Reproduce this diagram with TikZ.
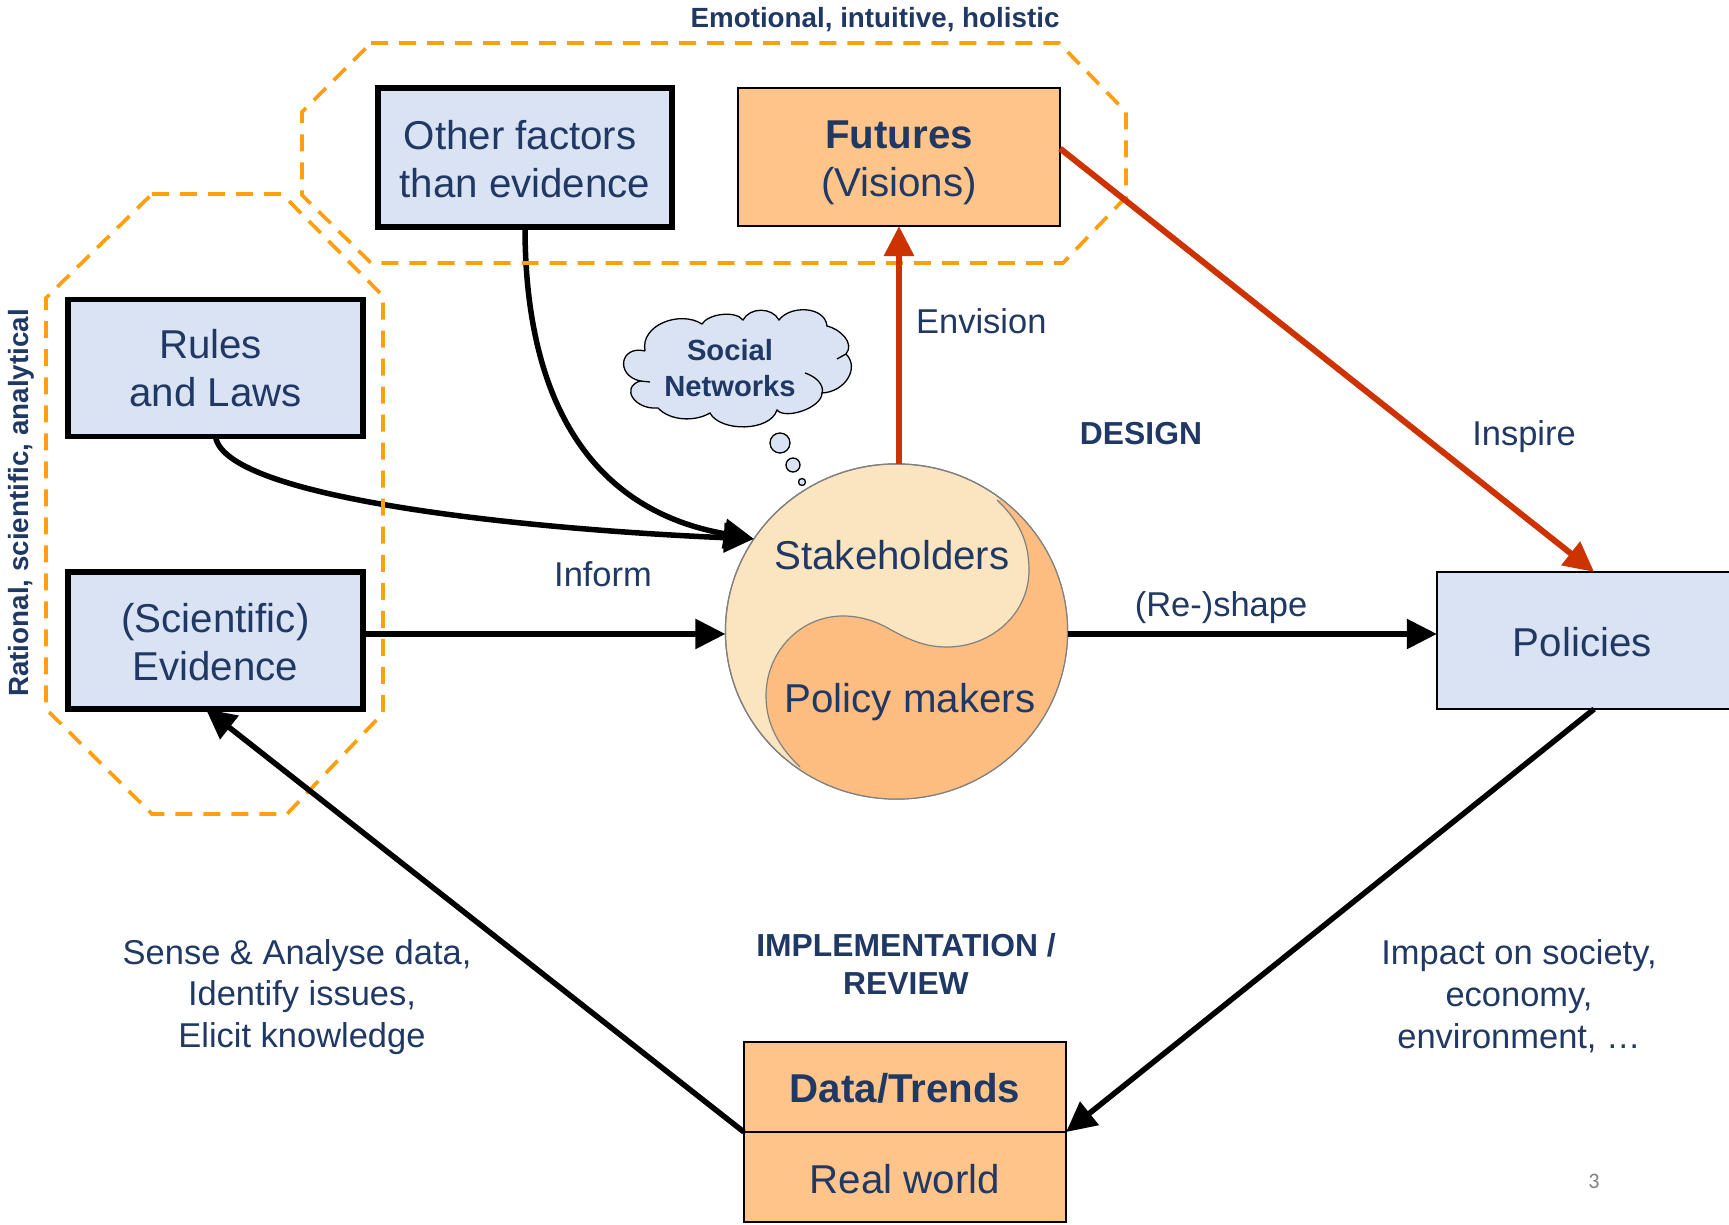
\documentclass[tikz,border=0pt]{standalone}
\usepackage{fontspec}
\setmainfont{Liberation Sans}
\newfontfamily\pagefont{Carlito}
\usepackage{xcolor}
\usetikzlibrary{arrows.meta,calc,shapes.geometric}

\definecolor{inknavy}{HTML}{1F3864}
\definecolor{boxblue}{HTML}{DAE3F3}
\definecolor{boxorange}{HTML}{FFC48A}
\definecolor{yinlight}{HTML}{FBE5C1}
\definecolor{yinorange}{HTML}{FDBD80}
\definecolor{dashorange}{HTML}{FF9F0F}
\definecolor{arrowred}{HTML}{CC3300}

\newcommand{\toproom}[1]{\rule{0pt}{#1pt}}

\tikzset{
  bigfont/.style={font=\fontsize{11.45}{13.7}\selectfont},
  midfont/.style={font=\fontsize{9.8}{11.9}\selectfont},
  headfont/.style={font=\fontsize{9.05}{10.6}\selectfont\bfseries},
  sidefont/.style={font=\fontsize{7.9}{9.5}\selectfont\bfseries},
  thickbox/.style={draw=black,line width=0.055cm,fill=boxblue,text=inknavy,bigfont,align=center,
    minimum width=2.95cm,minimum height=1.37cm,inner sep=0pt,outer sep=0pt},
  thinbox/.style={draw=black,line width=0.014cm,text=inknavy,bigfont,align=center,
    minimum width=3.22cm,inner sep=0pt,outer sep=0pt},
  label/.style={text=inknavy,midfont,align=center,inner sep=0pt},
  headlabel/.style={text=inknavy,headfont,align=center,inner sep=0pt},
  sidelabel/.style={text=inknavy,sidefont,inner sep=0pt},
  octagon/.style={dashorange,line width=0.037cm,dash pattern=on 0.17cm off 0.11cm},
  blackarrow/.style={-{Triangle[length=0.3cm,width=0.29cm]},line width=0.055cm,black},
  redarrow/.style={-{Triangle[length=0.3cm,width=0.29cm]},line width=0.06cm,arrowred},
  bubble/.style={draw=black,line width=0.013cm,fill=boxblue}
}

\begin{document}
\begin{tikzpicture}[x=0.01cm,y=-0.01cm]
\useasboundingbox (0,0) rectangle (1729,1225);

% Boxes
\node[thickbox,minimum width=2.94cm,minimum height=1.39cm] (others) at (525,157.5) {\toproom{9}Other factors\kern2.8pt\\than evidence};
\node[thinbox,fill=boxorange,minimum height=1.38cm] (futures) at (899,157) {\toproom{11.4}\textbf{Futures}\\(Visions)};
\node[thickbox] (rules) at (215.5,368) {Rules\kern2.8pt\\and Laws};
\node[thickbox] (evidence) at (215.5,640.5) {\toproom{9}(Scientific)\\Evidence};
\node[thinbox,fill=boxblue,minimum width=2.95cm,minimum height=1.37cm] (policies) at (1584.5,640.5) {\toproom{9}Policies\kern1.25pt};
\node[thinbox,fill=boxorange,minimum height=0.9cm,line width=0.025cm] (data) at (905,1087) {\toproom{9}\textbf{Data/Trends}};
\node[thinbox,fill=boxorange,minimum height=0.9cm,line width=0.025cm] (world) at (905,1177) {\toproom{9.5}Real world};

% Yin and yang
\node[ellipse,draw=gray,line width=0.012cm,fill=yinlight,minimum width=3.42cm,minimum height=3.35cm,inner sep=0pt,outer sep=0pt] (actors) at (896.5,631.5) {};
\begin{scope}
\clip (actors.center) ellipse[x radius=1.71cm,y radius=1.675cm];
\fill[yinorange] (997,500) .. controls (1018,520) and (1029,540) .. (1029,570)
  .. controls (1029,615) and (990,647) .. (947,647)
  .. controls (925,647) and (910,640) .. (893,631)
  .. controls (878,622) and (862,616) .. (843,616)
  .. controls (800,616) and (766,652) .. (766,696)
  .. controls (766,725) and (780,748) .. (800,767)
  -- (800,820) -- (1090,820) -- (1090,500) -- cycle;
\draw[gray,line width=0.012cm] (997,500) .. controls (1018,520) and (1029,540) .. (1029,570)
  .. controls (1029,615) and (990,647) .. (947,647)
  .. controls (925,647) and (910,640) .. (893,631)
  .. controls (878,622) and (862,616) .. (843,616)
  .. controls (800,616) and (766,652) .. (766,696)
  .. controls (766,725) and (780,748) .. (800,767);
\end{scope}
\draw[gray,line width=0.012cm] (actors.center) ellipse[x radius=1.71cm,y radius=1.675cm];
\node[text=inknavy,bigfont,inner sep=0pt] (stakeholders) at (892,555) {Stakeholders};
\node[text=inknavy,bigfont,inner sep=0pt] (makers) at (910,702) {Policy makers};

% Cloud
\draw[line width=0.013cm,fill=boxblue] (645,351) .. controls (640,325) and (680,310) .. (702,324)
  .. controls (708,314) and (735,310) .. (743,320)
  .. controls (750,307) and (772,307) .. (779,320)
  .. controls (790,305) and (825,306) .. (827,326)
  .. controls (840,329) and (855,343) .. (846,354)
  .. controls (860,368) and (845,392) .. (822,393)
  .. controls (822,408) and (785,420) .. (777,410)
  .. controls (770,432) and (720,432) .. (710,413)
  .. controls (695,422) and (670,421) .. (658,408)
  .. controls (635,410) and (620,388) .. (640,381)
  .. controls (615,375) and (620,345) .. (645,351);
\draw[line width=0.013cm] (640,381) -- (650,382);
\draw[line width=0.013cm] (805,373) .. controls (820,378) and (824,388) .. (822,393);
\draw[line width=0.013cm] (837,359) -- (846,354);
\node[text=inknavy,font=\fontsize{8.3}{10.3}\selectfont\bfseries,align=center,inner sep=0pt] (social) at (730,368) {Social\\Networks};
\node[bubble,circle,minimum size=0.2cm,inner sep=0pt] (puffa) at (780,443) {};
\node[bubble,circle,minimum size=0.14cm,inner sep=0pt] (puffb) at (793,465) {};
\node[bubble,circle,minimum size=0.07cm,inner sep=0pt] (puffc) at (802,482) {};

% Arrows below the dashes
\coordinate (midline) at (896,634);
\draw[blackarrow] (rules.south) .. controls (225,500) and (540,530) .. (actors.147);
\draw[blackarrow] (others.south) .. controls (525,400) and (590,510) .. (actors.147);
\draw[blackarrow] (evidence.east |- midline) -- (actors.west |- midline);

% Dashed octagons
\draw[octagon] (371,43) -- (1059,43) -- (1126,112) -- (1126,197) -- (1063,263) -- (371,263) -- (302,195) -- (302,112) -- cycle;
\draw[octagon] (152,194) -- (282,194) -- (383,296) -- (383,713) -- (287,814) -- (152,814) -- (46,709) -- (46,298) -- cycle;

% Arrows above the dashes
\draw[blackarrow] (actors.east |- midline) -- (policies.west |- midline);
\draw[blackarrow] (policies.278) -- (data.south east);
\draw[blackarrow] (data.south west) -- (evidence.262);
\draw[redarrow] (actors.north -| futures.south) -- (futures.south);
\draw[redarrow] (futures.3) -- (policies.82);

% Labels
\node[sidelabel] (emotional) at (875,20) {Emotional, intuitive, holistic};
\node[sidelabel,rotate=90] (rational) at (21,503) {Rational, scientific, analytical};
\node[label,anchor=west] (envision) at (915.5,321) {Envision};
\node[headlabel] (design) at (1141,434) {DESIGN};
\node[label] (inspire) at (1524,437) {Inspire};
\node[label] (inform) at (603,574) {Inform};
\node[label] (reshape) at (1221,608) {(Re-)shape};
\node[headlabel] (review) at (906,964) {IMPLEMENTATION /\\REVIEW};
\node[label] (sense) at (302,997) {Sense \& Analyse data,\kern2.8pt\\Identify issues,\\Elicit knowledge};
\node[label] (impact) at (1519,996.5) {Impact on society,\\economy,\\environment, …};
\node[text=gray,font=\pagefont\fontsize{6.3}{7}\selectfont,inner sep=0pt] (pagenum) at (1594,1181) {3};
\end{tikzpicture}
\end{document}
